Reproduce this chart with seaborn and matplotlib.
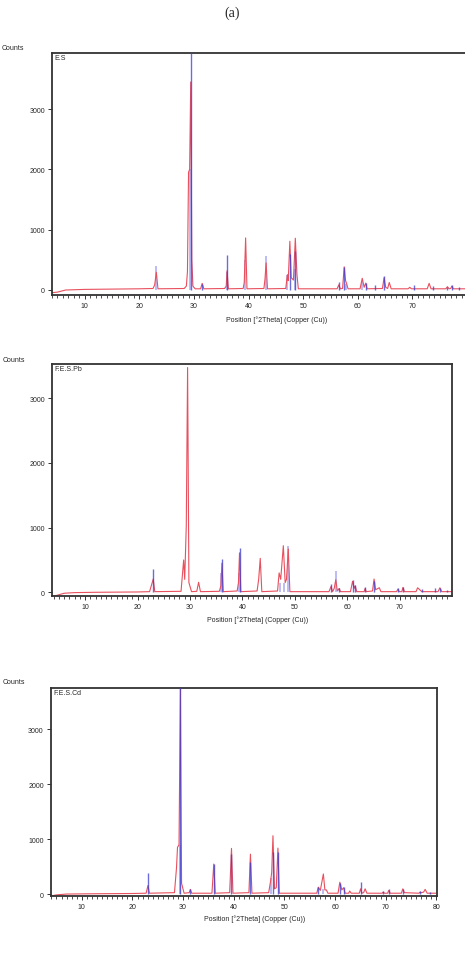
import matplotlib
matplotlib.use("Agg")
import matplotlib.pyplot as plt
import pandas as pd
import seaborn as sns
from matplotlib.ticker import MultipleLocator

es_trace = [(4.0, -50), (5.0, -40), (6.5, -5), (10, 5), (15, 10), (20, 15), (22.5, 20), (22.8, 80),
            (23.1, 290), (23.4, 15), (28.2, 20), (28.6, 60), (28.8, 300), (29.0, 1950), (29.2, 2000),
            (29.4, 3450), (29.6, 500), (29.8, 60), (30.2, 15), (31.2, 15), (31.5, 105), (31.8, 15),
            (35.6, 20), (35.9, 60), (36.05, 315), (36.3, 15), (39.0, 20), (39.2, 120), (39.45, 860),
            (39.7, 15), (42.8, 20), (43.0, 180), (43.2, 445), (43.45, 15), (46.8, 20), (47.1, 250),
            (47.25, 150), (47.55, 805), (47.8, 200), (48.2, 160), (48.55, 855), (48.85, 250), (49.1, 15),
            (56.2, 15), (56.5, 80), (56.8, 15), (57.2, 20), (57.5, 380), (57.75, 150), (57.95, 100),
            (58.2, 15), (60.4, 15), (60.8, 190), (61.15, 40), (61.45, 110), (61.7, 15), (64.5, 20),
            (64.8, 200), (65.1, 40), (65.45, 20), (65.75, 120), (66.1, 15), (69.2, 15), (69.5, 40),
            (69.8, 15), (72.7, 15), (73.05, 105), (73.4, 15), (76.1, 15), (76.4, 50), (76.7, 15),
            (77.0, 20), (77.2, 60), (77.5, 15), (80.0, 15)]
pb_trace = [(3.7, -60), (4.5, -50), (6.0, -15), (8.0, -5), (12, 0), (20, 5), (22.3, 10), (22.7, 120),
            (23.0, 205), (23.3, 10), (28.3, 15), (28.8, 500), (29.0, 200), (29.3, 1030), (29.55, 3475),
            (29.8, 150), (30.3, 10), (31.3, 15), (31.65, 155), (32.0, 10), (35.6, 15), (35.9, 100),
            (36.1, 450), (36.35, 10), (39.0, 20), (39.25, 150), (39.45, 610), (39.7, 10), (42.8, 20),
            (43.1, 200), (43.4, 525), (43.7, 10), (46.7, 20), (47.0, 300), (47.3, 200), (47.8, 720),
            (48.15, 150), (48.4, 200), (48.75, 670), (49.05, 10), (56.5, 10), (56.9, 90), (57.2, 10),
            (57.5, 60), (57.8, 195), (58.1, 20), (58.45, 60), (58.7, 10), (60.6, 10), (61.0, 170),
            (61.3, 60), (61.5, 100), (61.8, 10), (63.2, 10), (63.4, 60), (63.6, 10), (64.8, 20),
            (65.1, 205), (65.4, 40), (66.1, 70), (66.4, 10), (69.4, 10), (69.65, 50), (69.9, 10),
            (70.4, 10), (70.6, 75), (70.9, 10), (73.1, 10), (73.4, 70), (73.8, 40), (74.2, 10),
            (77.3, 10), (77.65, 70), (78.0, 10), (80.0, 10)]
cd_trace = [(3.9, -30), (5.0, -10), (7.0, 5), (12, 10), (20, 15), (22.7, 20), (23.07, 160), (23.35, 20),
            (28.3, 30), (28.7, 480), (28.9, 855), (29.2, 900), (29.47, 3730), (29.7, 200), (30.2, 20),
            (31.2, 30), (31.45, 90), (31.7, 20), (35.7, 20), (36.06, 550), (36.35, 20), (39.2, 30),
            (39.56, 835), (39.85, 20), (43.0, 30), (43.3, 730), (43.6, 20), (46.9, 30), (47.3, 250),
            (47.5, 400), (47.75, 1065), (48.05, 100), (48.4, 120), (48.73, 840), (49.0, 20),
            (56.4, 20), (56.7, 130), (57.1, 70), (57.7, 370), (58.0, 80), (58.3, 80), (58.6, 20),
            (60.6, 20), (60.95, 220), (61.35, 80), (61.7, 120), (62.0, 20), (62.7, 20), (62.9, 60),
            (63.2, 20), (64.8, 20), (65.05, 100), (65.3, 20), (65.65, 30), (65.95, 100), (66.3, 20),
            (69.3, 20), (69.5, 40), (69.8, 20), (70.4, 20), (70.6, 70), (70.9, 20), (73.1, 20),
            (73.4, 100), (73.7, 30), (76.6, 20), (76.8, 40), (77.1, 30), (77.5, 40), (77.8, 90),
            (78.2, 20), (80.0, 20)]

# Reference pattern sticks (position, height): strong phase and faint phase
es_ref = [(29.4, 4200), (31.45, 100), (36.0, 575), (47.5, 600), (48.5, 650), (56.55, 135), (57.4, 370),
          (61.4, 115), (63.1, 70), (64.7, 235), (70.3, 80), (73.7, 60), (76.3, 50), (77.2, 80), (78.6, 40)]
es_ref2 = [(23.0, 400), (29.2, 2000), (36.0, 300), (39.4, 500), (43.2, 565), (47.1, 250), (48.4, 350),
           (57.9, 100), (60.7, 150)]
pb_ref = [(23.0, 360), (36.1, 515), (39.45, 685), (56.85, 130), (58.4, 60), (61.0, 190), (61.5, 110),
          (63.4, 85), (65.1, 180), (69.65, 60), (70.6, 85), (74.2, 50), (76.7, 60), (77.65, 70), (79.0, 40)]
pb_ref2 = [(36.0, 300), (39.3, 300), (47.1, 150), (47.9, 150), (48.75, 720), (57.8, 335)]
cd_ref = [(23.07, 380), (29.47, 4200), (31.45, 95), (36.06, 550), (39.56, 740), (43.3, 580),
          (47.75, 770), (48.73, 770), (56.7, 135), (60.95, 200), (61.7, 130), (65.05, 230), (69.5, 60),
          (70.6, 90), (73.4, 100), (76.8, 60), (78.8, 40)]
cd_ref2 = [(29.3, 900), (47.3, 290), (57.7, 100)]

names = ["E.S", "F.E.S.Pb", "F.E.S.Cd"]
xlims = [(4.0, 79.8), (3.7, 79.9), (3.86, 80.2)]
ylims = [(-83, 3932), (-62, 3530), (-36, 3745)]

sns.set_style("ticks")
plt.rcParams["font.family"] = ["Liberation Sans", "DejaVu Sans"]

W, H = 465, 954
fig = plt.figure(figsize=(W / 100, H / 100), dpi=100)

# axes boxes in pixels: left, top, right, bottom
boxes = [(52, 54, 466, 295.7), (52, 365, 451.7, 597.3), (50.7, 689.3, 437.3, 897.3)]
xlab_pos = [(277, 320), (258, 620), (255, 919)]
counts_pos = [(2, 48), (3, 360), (3, 683)]

red = "#e8505e"
blue = "#3a3ad0"
lilac = "#a9a9f2"

for i, (trace, ref, ref2) in enumerate([(es_trace, es_ref, es_ref2),
                                        (pb_trace, pb_ref, pb_ref2),
                                        (cd_trace, cd_ref, cd_ref2)]):
    l, t, r, b = boxes[i]
    ax = fig.add_axes([l / W, 1 - b / H, (r - l) / W, (b - t) / H])
    df = pd.DataFrame(trace, columns=["pos", "counts"])
    sticks = pd.DataFrame(ref, columns=["pos", "h"])
    sticks2 = pd.DataFrame(ref2, columns=["pos", "h"])
    ax.vlines(sticks2["pos"], 0, sticks2["h"], color=lilac, lw=1.1, zorder=1)
    sns.lineplot(data=df, x="pos", y="counts", ax=ax, color=red, lw=0.8,
                 estimator=None, sort=False, zorder=2)
    ax.vlines(sticks["pos"], 0, sticks["h"], color=blue, lw=1.0, alpha=0.75, zorder=3)

    ax.set_xlim(*xlims[i])
    ax.set_ylim(*ylims[i])
    ax.set_xlabel("")
    ax.set_ylabel("")
    ax.xaxis.set_major_locator(MultipleLocator(10))
    ax.xaxis.set_minor_locator(MultipleLocator(1))
    ax.yaxis.set_major_locator(MultipleLocator(1000))
    ax.tick_params(axis="both", which="major", labelsize=5, length=3, width=0.7,
                   color="#333333", pad=2)
    ax.tick_params(axis="x", which="minor", length=2, width=0.6, color="#333333")
    for side in ["left", "top", "bottom", "right"]:
        ax.spines[side].set_linewidth(1.3)
        ax.spines[side].set_color("#333333")
    if i == 0:
        ax.spines["right"].set_visible(False)
    ax.text(0.006, 0.995, names[i], transform=ax.transAxes, fontsize=5, va="top", ha="left")

    fig.text(counts_pos[i][0] / W, 1 - counts_pos[i][1] / H, "Counts", fontsize=5,
             ha="left", va="center")
    fig.text(xlab_pos[i][0] / W, 1 - xlab_pos[i][1] / H, "Position [°2Theta] (Copper (Cu))",
             fontsize=5, ha="center", va="center")

fig.text(0.5, 1 - 13 / H, "(a)", fontsize=10, ha="center", va="center",
         family=["Liberation Serif", "DejaVu Serif"])

fig.savefig("out.png", dpi=100)
